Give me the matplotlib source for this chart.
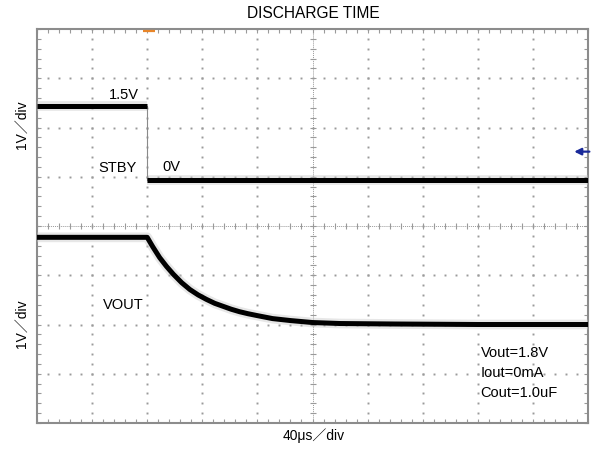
import matplotlib

matplotlib.use("Agg")
import matplotlib.pyplot as plt
import numpy as np

plt.rcParams["font.family"] = ["Liberation Sans", "Noto Sans CJK JP", "DejaVu Sans"]

# time axis: 40 us/div, 10 div; voltage axis: 1 V/div, 8 div
T_SPAN = 400.0
N_YDIV = 8

# STBY trace (V); 0 V reference at 4.93 div
stby_t_high = [0, 80]
stby_v_high = [1.5, 1.5]
stby_t_low = [80, 400]
stby_v_low = [0.0, 0.0]
STBY_ZERO = 4.93

# VOUT discharge (V); 0 V reference at 2.0 div
vout_t = [0, 80, 84, 89, 94, 99, 105, 111, 117, 123, 129, 135, 141, 147,
          153, 160, 171, 184, 200, 220, 260, 320, 400]
vout_v = [1.77, 1.77, 1.58, 1.36, 1.18, 1.02, 0.85, 0.71, 0.60, 0.51, 0.43,
          0.37, 0.31, 0.26, 0.22, 0.18, 0.12, 0.08, 0.04, 0.02, 0.01, 0.0, 0.0]
VOUT_ZERO = 2.0

TRIG_LEVEL = 5.51  # blue marker on the right edge (div)
GRID = "#9a9a9a"


def trace(ax, t, v, zero):
    y = np.asarray(v) + zero
    ax.plot(t, y, color="#c4c4c4", lw=7.0, alpha=0.4, solid_capstyle="butt", zorder=3)
    ax.plot(t, y, color="black", lw=3.6, solid_capstyle="butt", zorder=4)


def main() -> None:
    fig = plt.figure(figsize=(5.93, 4.5), dpi=100)
    ax = fig.add_axes([37 / 593, 1 - 423 / 450, 551 / 593, 394 / 450])
    ax.set_xlim(0, T_SPAN)
    ax.set_ylim(0, N_YDIV)

    # dotted graticule
    sub_x = np.arange(0, T_SPAN + 0.1, 8)
    sub_y = np.arange(0, N_YDIV + 0.01, 0.2)
    for k in range(1, 10):
        if k == 5:
            continue
        ax.plot(np.full_like(sub_y, 40 * k), sub_y, ls="none", marker="s",
                ms=1.4, mew=0, color=GRID, zorder=1)
    for k in range(1, N_YDIV):
        if k == 4:
            continue
        ax.plot(sub_x, np.full_like(sub_x, k), ls="none", marker="s",
                ms=1.4, mew=0, color=GRID, zorder=1)
    # centre axes with minor ticks
    ax.plot([0, T_SPAN], [4, 4], color=GRID, lw=0.7, ls=(0, (1, 1)), zorder=1)
    ax.plot([200, 200], [0, N_YDIV], color=GRID, lw=0.7, ls=(0, (1, 1)), zorder=1)
    ax.plot(sub_x, np.full_like(sub_x, 4.0), ls="none", marker="|", ms=5,
            mew=0.8, color=GRID, zorder=1)
    ax.plot(np.full_like(sub_y, 200.0), sub_y, ls="none", marker="_", ms=5,
            mew=0.8, color=GRID, zorder=1)

    # frame ticks
    ax.set_xticks(sub_x)
    ax.set_yticks(sub_y)
    ax.tick_params(direction="in", length=3, width=0.8, color=GRID,
                   top=True, right=True, labelbottom=False, labelleft=False)
    for s in ax.spines.values():
        s.set_color("#8c8c8c")
        s.set_linewidth(1.5)

    # traces
    trace(ax, stby_t_high, stby_v_high, STBY_ZERO)
    trace(ax, stby_t_low, stby_v_low, STBY_ZERO)
    ax.plot([80, 80], [STBY_ZERO + stby_v_low[0], STBY_ZERO + stby_v_high[-1]],
            color="#8a8a8a", lw=0.8, zorder=3)
    trace(ax, vout_t, vout_v, VOUT_ZERO)

    # trigger position / level markers
    ax.plot([77, 86], [7.96, 7.96], color="#e8862a", lw=1.6, zorder=5,
            solid_capstyle="butt")
    ax.annotate("", xy=(390, TRIG_LEVEL), xytext=(401, TRIG_LEVEL),
                arrowprops=dict(arrowstyle="-|>", color="#1a2a9a", lw=1.6,
                                mutation_scale=10, shrinkA=0, shrinkB=0),
                annotation_clip=False)

    # labels on screen
    fs = 10.5
    ax.text(63, 6.65, "1.5V", fontsize=fs, ha="center", va="center")
    ax.text(58.5, 5.17, "STBY", fontsize=fs, ha="center", va="center")
    ax.text(97.5, 5.19, "0V", fontsize=fs, ha="center", va="center")
    ax.text(63, 2.39, "VOUT", fontsize=fs, ha="center", va="center")
    ax.text(322, 1.42, "Vout=1.8V", fontsize=fs, ha="left", va="center")
    ax.text(322, 1.01, "Iout=0mA", fontsize=fs, ha="left", va="center")
    ax.text(322, 0.60, "Cout=1.0uF", fontsize=fs, ha="left", va="center")

    fig.text(0.528, 1 - 14 / 450, "DISCHARGE TIME", fontsize=11.2,
             ha="center", va="center")
    fig.text(22 / 593, 1 - 125 / 450, "1V／div", fontsize=10, rotation=90,
             ha="center", va="center")
    fig.text(22 / 593, 1 - 324 / 450, "1V／div", fontsize=10, rotation=90,
             ha="center", va="center")
    fig.text(314 / 593, 1 - 436 / 450, "40μs／div", fontsize=10,
             ha="center", va="center")

    fig.savefig("out.png", dpi=100)


if __name__ == "__main__":
    main()
